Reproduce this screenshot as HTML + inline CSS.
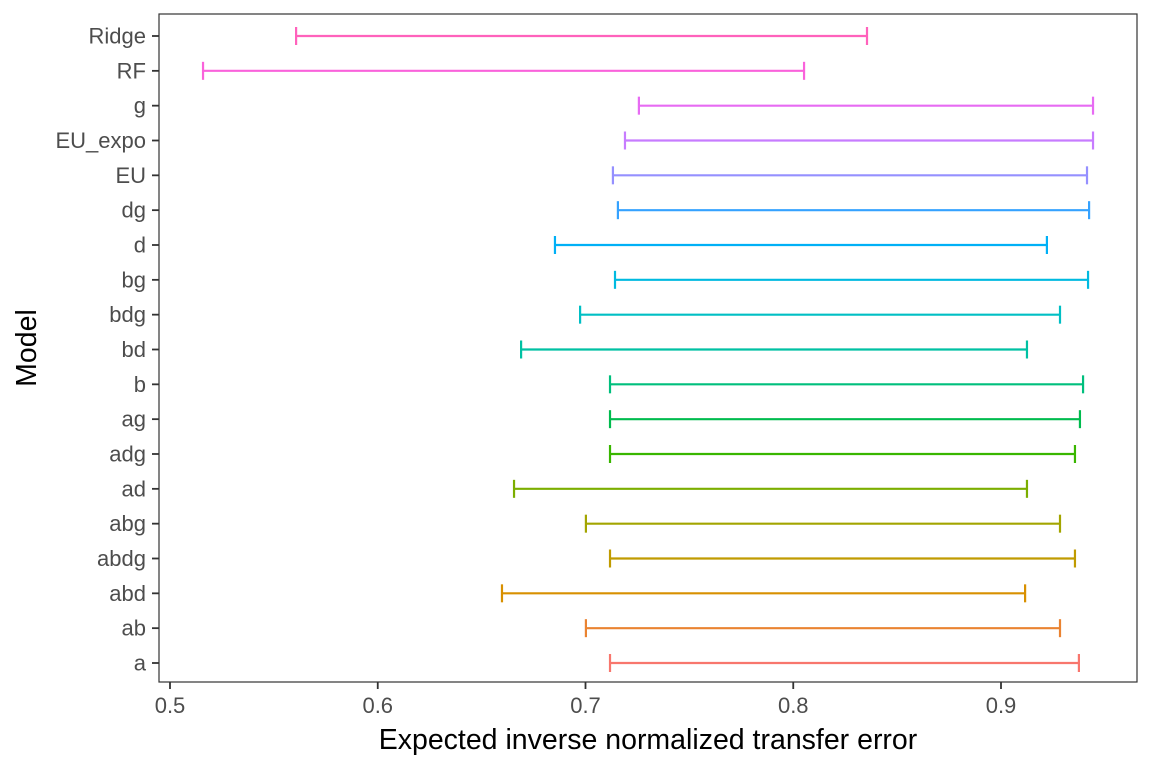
<!DOCTYPE html>
<html><head><meta charset="utf-8"><style>
body{margin:0;background:#fff}
svg{display:block;font-family:"Liberation Sans",sans-serif}
</style></head><body>
<svg id="chart" width="1152" height="768">
<rect x="159" y="14" width="978" height="668" fill="#fff" stroke="#333" stroke-width="1.2"/>
<g id="marks"></g>
<g id="axes"></g>
<text x="648" y="749" font-size="28.5" text-anchor="middle" fill="#000">Expected inverse normalized transfer error</text>
<text transform="translate(36,348) rotate(-90)" font-size="28.5" text-anchor="middle" fill="#000">Model</text>
</svg>
<script>
const categories=["a","ab","abd","abdg","abg","ad","adg","ag","b","bd","bdg","bg","d","dg","EU","EU_expo","g","RF","Ridge"];
const lowValues=[0.7118,0.7002,0.6598,0.7118,0.7002,0.6656,0.7118,0.7118,0.7118,0.6690,0.6974,0.7142,0.6853,0.7156,0.7132,0.7190,0.7257,0.5159,0.5607];
const highValues=[0.9375,0.9284,0.9116,0.9356,0.9284,0.9125,0.9356,0.9380,0.9395,0.9125,0.9284,0.9419,0.9221,0.9424,0.9414,0.9443,0.9443,0.8052,0.8355];
const colors=["#F8766D","#EA8331","#D89000","#C09B00","#A3A500","#7CAE00","#39B600","#00BB4E","#00BF7D","#00C1A3","#00BFC4","#00BAE0","#00B0F6","#35A2FF","#9590FF","#C77CFF","#E76BF3","#FA62DB","#FF62BC"];
const xTicks=[0.5,0.6,0.7,0.8,0.9];
const NS="http://www.w3.org/2000/svg";
const xScale=v=>170+(v-0.5)*2077.5;
const yScale=i=>663-i*(627/18);
const marks=document.getElementById('marks'),axes=document.getElementById('axes');
function mk(tag,attrs,parent){const e=document.createElementNS(NS,tag);for(const k in attrs)e.setAttribute(k,attrs[k]);parent.appendChild(e);return e;}
categories.forEach((c,i)=>{
  const y=yScale(i),x1=xScale(lowValues[i]),x2=xScale(highValues[i]);
  const g=mk('g',{stroke:colors[i],'stroke-width':2.2,fill:'none'},marks);
  
  
  mk('line',{x1:x1,x2:x2,y1:y,y2:y},g);
  mk('line',{x1:x1,x2:x1,y1:y-9,y2:y+9},g);
  mk('line',{x1:x2,x2:x2,y1:y-9,y2:y+9},g);
  const t=mk('line',{x1:152,x2:159,y1:y,y2:y,stroke:'#333','stroke-width':1.8},axes);
  
  
  const l=mk('text',{x:146,y:y+7.5,'font-size':22,'text-anchor':'end',fill:'#4d4d4d'},axes);
  l.textContent=c;
  
  
});
xTicks.forEach(v=>{
  const x=xScale(v);
  const t=mk('line',{x1:x,x2:x,y1:682,y2:689,stroke:'#333','stroke-width':1.8},axes);
  
  
  const l=mk('text',{x:x,y:713,'font-size':22,'text-anchor':'middle',fill:'#4d4d4d'},axes);
  l.textContent=String(v);
  
  
});
</script>
</body></html>
